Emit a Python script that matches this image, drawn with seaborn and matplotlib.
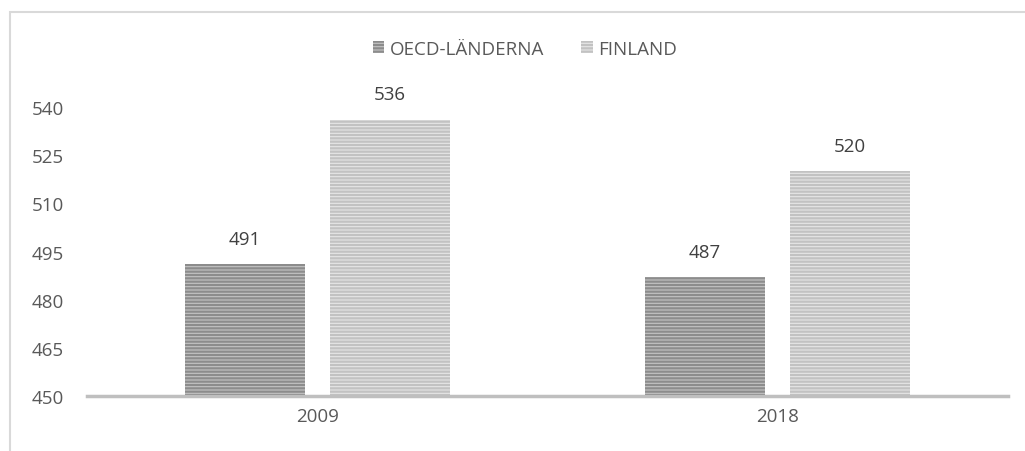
import matplotlib as mpl
mpl.use('Agg')
import matplotlib.pyplot as plt
import seaborn as sns
import pandas as pd
from matplotlib.patches import Patch, Rectangle

years = ['2009', '2018']
oecd = [491, 487]
finland = [536, 520]
series_names = ['OECD-LÄNDERNA', 'FINLAND']
yticks = [450, 465, 480, 495, 510, 525, 540]

df = pd.DataFrame({
  'year': years * 2,
  'score': oecd + finland,
  'group': [series_names[0]] * 2 + [series_names[1]] * 2,
})

sns.set_theme(style='white')
plt.rcParams['font.family'] = ['Open Sans', 'DejaVu Sans']
plt.rcParams['hatch.linewidth'] = 1.6

face = {series_names[0]: '#c4c4c4', series_names[1]: '#e6e6e6'}
stripe = {series_names[0]: '#8c8c8c', series_names[1]: '#c2c2c2'}
fs = 13.5

fig = plt.figure(figsize=(10.25, 4.52), dpi=100)
ax = fig.add_axes([0.085, 0.122, 0.898, 0.745])

sns.barplot(data=df, x='year', y='score', hue='group', palette=face,
            width=0.63, gap=0.17, ax=ax, legend=False)

for bars, name in zip(ax.containers, series_names):
  for b in bars:
    b.set_hatch('-----')
    b.set_edgecolor(stripe[name])
    b.set_linewidth(0)
  ax.bar_label(bars, padding=12, fontsize=fs, color='#404040')

ax.set_ylim(450, 555)
ax.set_xlim(-0.5, 1.5)
ax.set_yticks(yticks)
ax.set_xlabel('')
ax.set_ylabel('')
ax.tick_params(axis='both', labelsize=fs, colors='#595959', length=0)
ax.tick_params(axis='y', pad=17)
ax.tick_params(axis='x', pad=8)
for s in ['top', 'right', 'left']:
  ax.spines[s].set_visible(False)
ax.spines['bottom'].set_color('#bfbfbf')
ax.spines['bottom'].set_linewidth(2.5)

handles = [Patch(facecolor=face[n], edgecolor=stripe[n], hatch='-----', linewidth=0, label=n)
           for n in series_names]
fig.legend(handles=handles, loc='center', bbox_to_anchor=(0.512, 0.89), ncol=2,
           frameon=False, fontsize=fs, handlelength=0.6, handleheight=0.6,
           handletextpad=0.3, columnspacing=2.0, labelcolor='#595959')

# chart border
fig.patches.append(Rectangle((0.010, -0.05), 1.2, 1.021, transform=fig.transFigure,
                             fill=False, edgecolor='#d9d9d9', linewidth=1.5))

fig.savefig('out.png', dpi=100)
